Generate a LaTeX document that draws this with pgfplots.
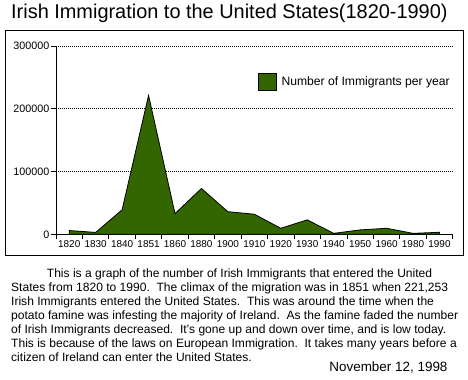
\documentclass[border=0pt]{standalone}
\usepackage{pgfplots}
\pgfplotsset{compat=1.18}
\usepackage{fontspec}
\setmainfont{Liberation Sans}
\definecolor{areagreen}{RGB}{51,102,0}
\begin{document}
\begin{tikzpicture}
\path[use as bounding box] (0bp,0bp) rectangle (468bp,380bp);
\draw[line width=1bp] (5.5bp,124bp) rectangle (463bp,349bp);
\node[anchor=base west, font=\fontsize{20}{24}\selectfont, inner sep=0] at (11bp,361.7bp) {Irish Immigration to the United States(1820-1990)};
\begin{axis}[
  at={(56bp,145.7bp)}, anchor=south west,
  scale only axis, width=396.7bp, height=188.3bp,
  xmin=0, xmax=15, ymin=0, ymax=300000,
  axis x line*=bottom, axis y line*=left,
  axis line style={line width=1bp, -},
  xtick={0,...,15}, x tick label as interval,
  xticklabels={1820,1830,1840,1851,1860,1880,1900,1910,1920,1930,1940,1950,1960,1980,1990},
  ytick={0,100000,200000,300000},
  yticklabels={0,100000,200000,300000},
  scaled y ticks=false,
  tick align=outside, major tick length=5bp,
  tick style={black, line width=0.8bp},
  ymajorgrids,
  grid style={black, line width=0.6bp, dash pattern=on 1bp off 1bp},
  xticklabel style={font=\fontsize{10}{12}\selectfont, inner sep=1bp},
  yticklabel style={font=\fontsize{10.8}{12}\selectfont, inner sep=1.5bp},
  legend style={draw=none, fill=none, at={(axis description cs:0.508,0.811)}, anchor=west,
    inner sep=0pt, font=\fontsize{12.2}{14}\selectfont,
    /tikz/every odd column/.append style={column sep=3bp}},
  legend image code/.code={\draw[#1, draw=black, line width=0.8bp] (0bp,-8.5bp) rectangle (18bp,8.5bp);},
]
\addplot[fill=areagreen, draw=black, line width=0.8bp] coordinates {
(0.5,6000) (1.5,3000) (2.5,39000) (3.5,221253) (4.5,33000) (5.5,73000) (6.5,36000) (7.5,32000)
(8.5,9600) (9.5,23000) (10.5,1500) (11.5,7000) (12.5,9600) (13.5,1500) (14.5,3200)
} \closedcycle;
\addlegendentry{Number of Immigrants per year}
\end{axis}
\begin{scope}[every node/.style={anchor=base west, inner sep=0, font=\fontsize{12.1}{14}\selectfont}]
\node at (46.7bp,102.5bp) {This is a graph of the number of Irish Immigrants that entered the United};
\node at (11bp,88.5bp) {States from 1820 to 1990.\ \ The climax of the migration was in 1851 when 221,253};
\node at (11bp,74.5bp) {Irish Immigrants entered the United States.\ \ This was around the time when the};
\node at (11bp,60.5bp) {potato famine was infesting the majority of Ireland.\ \ As the famine faded the number};
\node at (11bp,46.5bp) {of Irish Immigrants decreased.\ \ It's gone up and down over time, and is low today.};
\node at (11bp,32.5bp) {This is because of the laws on European Immigration.\ \ It takes many years before a};
\node at (11bp,18.5bp) {citizen of Ireland can enter the United States.};
\node[anchor=base east, font=\fontsize{13.5}{15}\selectfont] at (447.7bp,8.3bp) {November 12, 1998};
\end{scope}
\end{tikzpicture}
\end{document}
